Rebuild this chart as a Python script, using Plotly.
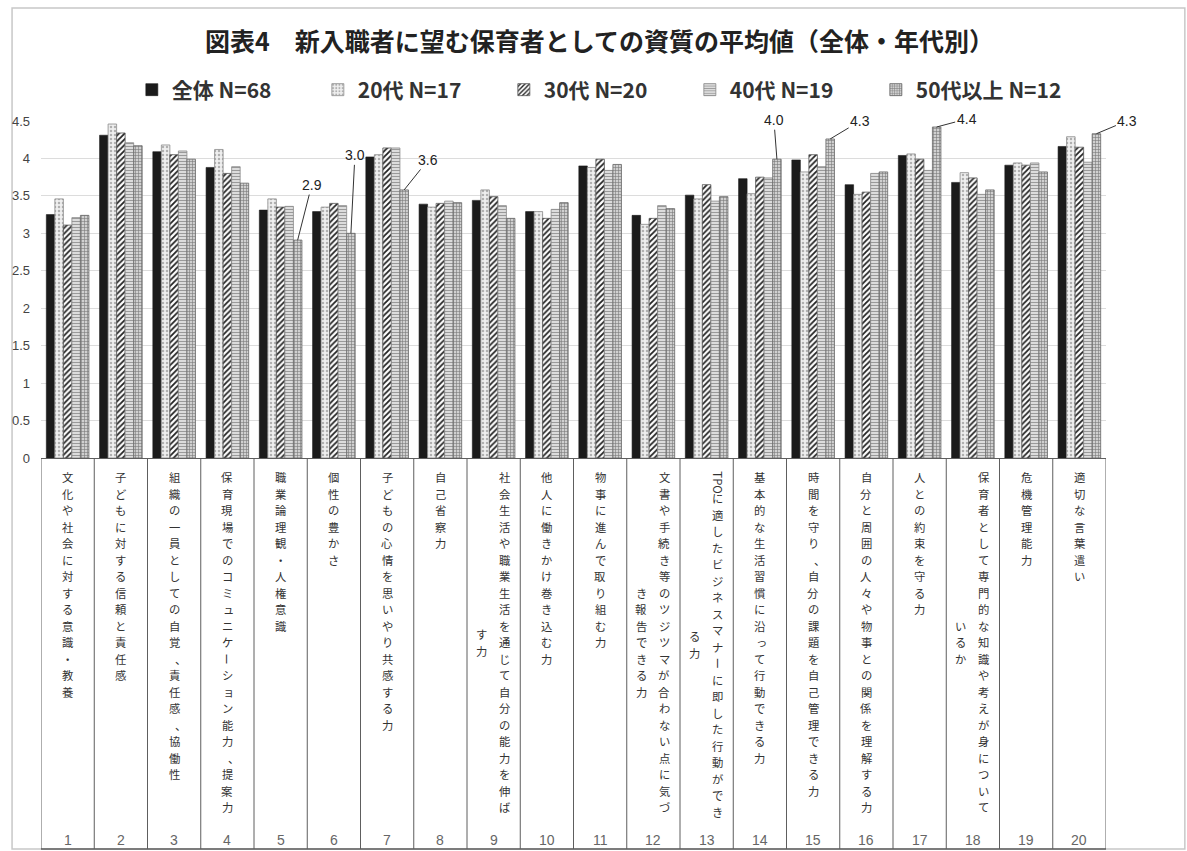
import plotly.graph_objects as go

# ---------------- data ----------------
categories = [
    "文化や社会に対する意識・教養",
    "子どもに対する信頼と責任感",
    "組織の一員としての自覚、責任感、協働性",
    "保育現場でのコミュニケーション能力、提案力",
    "職業論理観・人権意識",
    "個性の豊かさ",
    "子どもの心情を思いやり共感する力",
    "自己省察力",
    "社会生活や職業生活を通じて自分の能力を伸ばす力",
    "他人に働きかけ巻き込む力",
    "物事に進んで取り組む力",
    "文書や手続き等のツジツマが合わない点に気づき報告できる力",
    "TPOに適したビジネスマナーに即した行動ができる力",
    "基本的な生活習慣に沿って行動できる力",
    "時間を守り、自分の課題を自己管理できる力",
    "自分と周囲の人々や物事との関係を理解する力",
    "人との約束を守る力",
    "保育者として専門的な知識や考えが身についているか",
    "危機管理能力",
    "適切な言葉遣い",
]
# how each category label is wrapped into vertical columns (right column first)
label_columns = [
    ["文化や社会に対する意識・教養"],
    ["子どもに対する信頼と責任感"],
    ["組織の一員としての自覚、責任感、協働性"],
    ["保育現場でのコミュニケーション能力、提案力"],
    ["職業論理観・人権意識"],
    ["個性の豊かさ"],
    ["子どもの心情を思いやり共感する力"],
    ["自己省察力"],
    ["社会生活や職業生活を通じて自分の能力を伸ば", "す力"],
    ["他人に働きかけ巻き込む力"],
    ["物事に進んで取り組む力"],
    ["文書や手続き等のツジツマが合わない点に気づ", "き報告できる力"],
    ["TPOに適したビジネスマナーに即した行動ができ", "る力"],
    ["基本的な生活習慣に沿って行動できる力"],
    ["時間を守り、自分の課題を自己管理できる力"],
    ["自分と周囲の人々や物事との関係を理解する力"],
    ["人との約束を守る力"],
    ["保育者として専門的な知識や考えが身について", "いるか"],
    ["危機管理能力"],
    ["適切な言葉遣い"],
]
category_numbers = [str(i) for i in range(1, 21)]

series_names = ["全体 N=68", "20代 N=17", "30代 N=20", "40代 N=19", "50代以上 N=12"]
values_all = [3.25, 4.31, 4.09, 3.88, 3.31, 3.29, 4.02, 3.39, 3.44, 3.29,
              3.90, 3.24, 3.51, 3.73, 3.98, 3.65, 4.04, 3.68, 3.91, 4.16]
values_20s = [3.46, 4.46, 4.18, 4.12, 3.46, 3.35, 4.05, 3.35, 3.58, 3.29,
              3.88, 3.12, 3.46, 3.53, 3.82, 3.52, 4.06, 3.81, 3.94, 4.29]
values_30s = [3.11, 4.34, 4.05, 3.80, 3.35, 3.40, 4.14, 3.40, 3.49, 3.20,
              3.99, 3.20, 3.65, 3.75, 4.05, 3.55, 3.99, 3.74, 3.91, 4.15]
values_40s = [3.21, 4.21, 4.10, 3.89, 3.36, 3.37, 4.14, 3.43, 3.37, 3.32,
              3.84, 3.37, 3.43, 3.74, 3.89, 3.80, 3.84, 3.52, 3.94, 3.95]
values_50s = [3.24, 4.17, 3.99, 3.67, 2.91, 3.00, 3.58, 3.41, 3.20, 3.41,
              3.92, 3.33, 3.49, 3.99, 4.26, 3.82, 4.42, 3.58, 3.82, 4.33]
series_values = [values_all, values_20s, values_30s, values_40s, values_50s]

y_tick_values = [0, 0.5, 1, 1.5, 2, 2.5, 3, 3.5, 4, 4.5]
y_tick_labels = ["0", "0.5", "1", "1.5", "2", "2.5", "3", "3.5", "4", "4.5"]

# labelled bars: (category index, series index)
labelled_bars = [(4, 4), (5, 4), (6, 4), (13, 4), (14, 4), (16, 4), (19, 4)]

# ---------------- styling / layout helpers ----------------
W, H = 1187, 851
ML, MR, MT, MB = 39, 81, 121, 393
PW, PH = W - ML - MR, H - MT - MB
BARGAP = 0.2
CJK = "Noto Sans CJK JP"
NARROW = "Liberation Sans Narrow, Arial Narrow, Liberation Sans, sans-serif"


def yp(py):
    return (H - MB - py) / PH


def xp(px):
    return (px - ML) / PW


styles = [
    dict(color="#1b1b1b", line=dict(color="#1b1b1b", width=0.6)),
    dict(color="#e6e6e6", line=dict(color="#8a8a8a", width=0.8),
         pattern=dict(shape=".", fgcolor="#b0b0b0", bgcolor="#efefef", size=4, solidity=0.3, fillmode="replace")),
    dict(color="#ffffff", line=dict(color="#555555", width=0.8),
         pattern=dict(shape="/", fgcolor="#222222", bgcolor="#ffffff", size=4, solidity=0.45, fillmode="replace")),
    dict(color="#d8d8d8", line=dict(color="#888888", width=0.8),
         pattern=dict(shape="-", fgcolor="#9a9a9a", bgcolor="#e4e4e4", size=3, solidity=0.4, fillmode="replace")),
    dict(color="#bbbbbb", line=dict(color="#666666", width=0.8),
         pattern=dict(shape="+", fgcolor="#7a7a7a", bgcolor="#d0d0d0", size=3, solidity=0.35, fillmode="replace")),
]

fig = go.Figure()
for k, (name, vals, st) in enumerate(zip(series_names, series_values, styles)):
    fig.add_trace(go.Bar(x=categories, y=vals, name=name, marker=st,
                         legendwidth=190 if k == len(series_names) - 1 else None))

n_series = len(series_names)
bar_w = (1 - BARGAP) / n_series

annotations = []
shapes = []

# value labels with leader lines
label_offsets = [(14, -55), (4, -78), (24, -30), (-3, -39), (30, -18), (30, -8), (31, -13)]
for (ci, si), (ax, ay) in zip(labelled_bars, label_offsets):
    v = series_values[si][ci]
    annotations.append(dict(
        x=ci + (si - (n_series - 1) / 2) * bar_w, y=v, xref="x", yref="y",
        text=f"{v:.1f}", showarrow=True, arrowhead=0, arrowwidth=1, arrowcolor="#333333",
        ax=ax, ay=ay, standoff=0, font=dict(family="Liberation Sans, sans-serif", size=14, color="#222222")))

# category table below the axis: vertical (tategaki) labels, one glyph per row
LABEL_FS = 11.35
PITCH = 16.5
TOP = 469
SMALL_KANA = set("ッュョャっゃゅょァィゥェォぁぃぅぇぉ")
label_font = dict(family=CJK, size=LABEL_FS, color="#333333")


def vertical_column(i, text, xshift, top):
    j = 0
    y = top
    prefix = ""
    while j < len(text) and text[j].isascii():
        prefix += text[j]
        j += 1
    if prefix:
        annotations.append(dict(x=i, y=yp(y), xref="x", yref="paper", text=prefix, textangle=90,
                                showarrow=False, yanchor="top", xanchor="center", xshift=xshift,
                                font=label_font))
        y += 21
    for ch in text[j:]:
        a = dict(x=i, y=yp(y + PITCH / 2), xref="x", yref="paper", text=ch, showarrow=False,
                 yanchor="middle", xanchor="center", xshift=xshift, font=label_font)
        if ch == "ー":
            a["textangle"] = 90
        elif ch in "、。":
            a["xshift"] = xshift + 0.55 * LABEL_FS
        elif ch in SMALL_KANA:
            a["xshift"] = xshift + 0.12 * LABEL_FS
        annotations.append(a)
        y += PITCH
    return y


for i, cols in enumerate(label_columns):
    shift = 11 if len(cols) > 1 else 0
    end = vertical_column(i, cols[0], shift, TOP)
    main_center = (TOP + end) / 2
    for k, col in enumerate(cols[1:]):
        start = main_center - len(col) * PITCH / 2
        vertical_column(i, col, shift - 23 * (k + 1), start)
    annotations.append(dict(x=i, y=yp(840), xref="x", yref="paper", text=category_numbers[i],
                            showarrow=False, yanchor="middle", xanchor="center",
                            font=dict(family=NARROW, size=14, color="#666666")))

for k in range(len(categories) + 1):
    shapes.append(dict(type="line", xref="x", yref="paper", x0=k - 0.5, x1=k - 0.5,
                       y0=yp(458), y1=yp(849), line=dict(color="#5e5e5e", width=1)))
shapes.append(dict(type="line", xref="x", yref="paper", x0=-0.5, x1=len(categories) - 0.5,
                   y0=yp(849), y1=yp(849), line=dict(color="#5e5e5e", width=1.5)))
# outer chart frame
shapes.append(dict(type="rect", xref="paper", yref="paper", x0=xp(10), x1=xp(1185),
                   y0=yp(849), y1=yp(8), line=dict(color="#c8c8c8", width=1.5), layer="below"))

fig.update_layout(
    width=W, height=H,
    margin=dict(l=ML, r=MR, t=MT, b=MB),
    paper_bgcolor="white", plot_bgcolor="white",
    barmode="group", bargap=BARGAP, bargroupgap=0,
    title=dict(text="図表4　新入職者に望む保育者としての資質の平均値（全体・年代別）",
               x=0.505, xanchor="center", y=1 - 42 / H, yanchor="middle",
               font=dict(family=CJK, size=25, color="#222222", weight="bold")),
    legend=dict(orientation="h", x=xp(130), xanchor="left", y=yp(90), yanchor="middle",
                yref="paper", font=dict(family=CJK, size=21, color="#333333", weight="bold"),
                entrywidth=141, entrywidthmode="pixels", itemwidth=30, bgcolor="rgba(0,0,0,0)",
                traceorder="normal"),
    xaxis=dict(showticklabels=False, ticks="", showgrid=False, zeroline=False,
               showline=True, linecolor="#5e5e5e", linewidth=1, range=[-0.5, len(categories) - 0.5]),
    yaxis=dict(range=[0, 4.5], tickvals=y_tick_values, ticktext=y_tick_labels,
               showgrid=True, gridcolor="#dcdcdc", gridwidth=1, zeroline=False, showline=False,
               ticks="", ticklabelstandoff=10,
               tickfont=dict(family=NARROW, size=13, color="#444444")),
    annotations=annotations,
    shapes=shapes,
    showlegend=True,
)

fig.write_html("out.html", config={"displayModeBar": False},
               post_script="document.body.style.margin='0';document.documentElement.style.overflow='hidden';")
